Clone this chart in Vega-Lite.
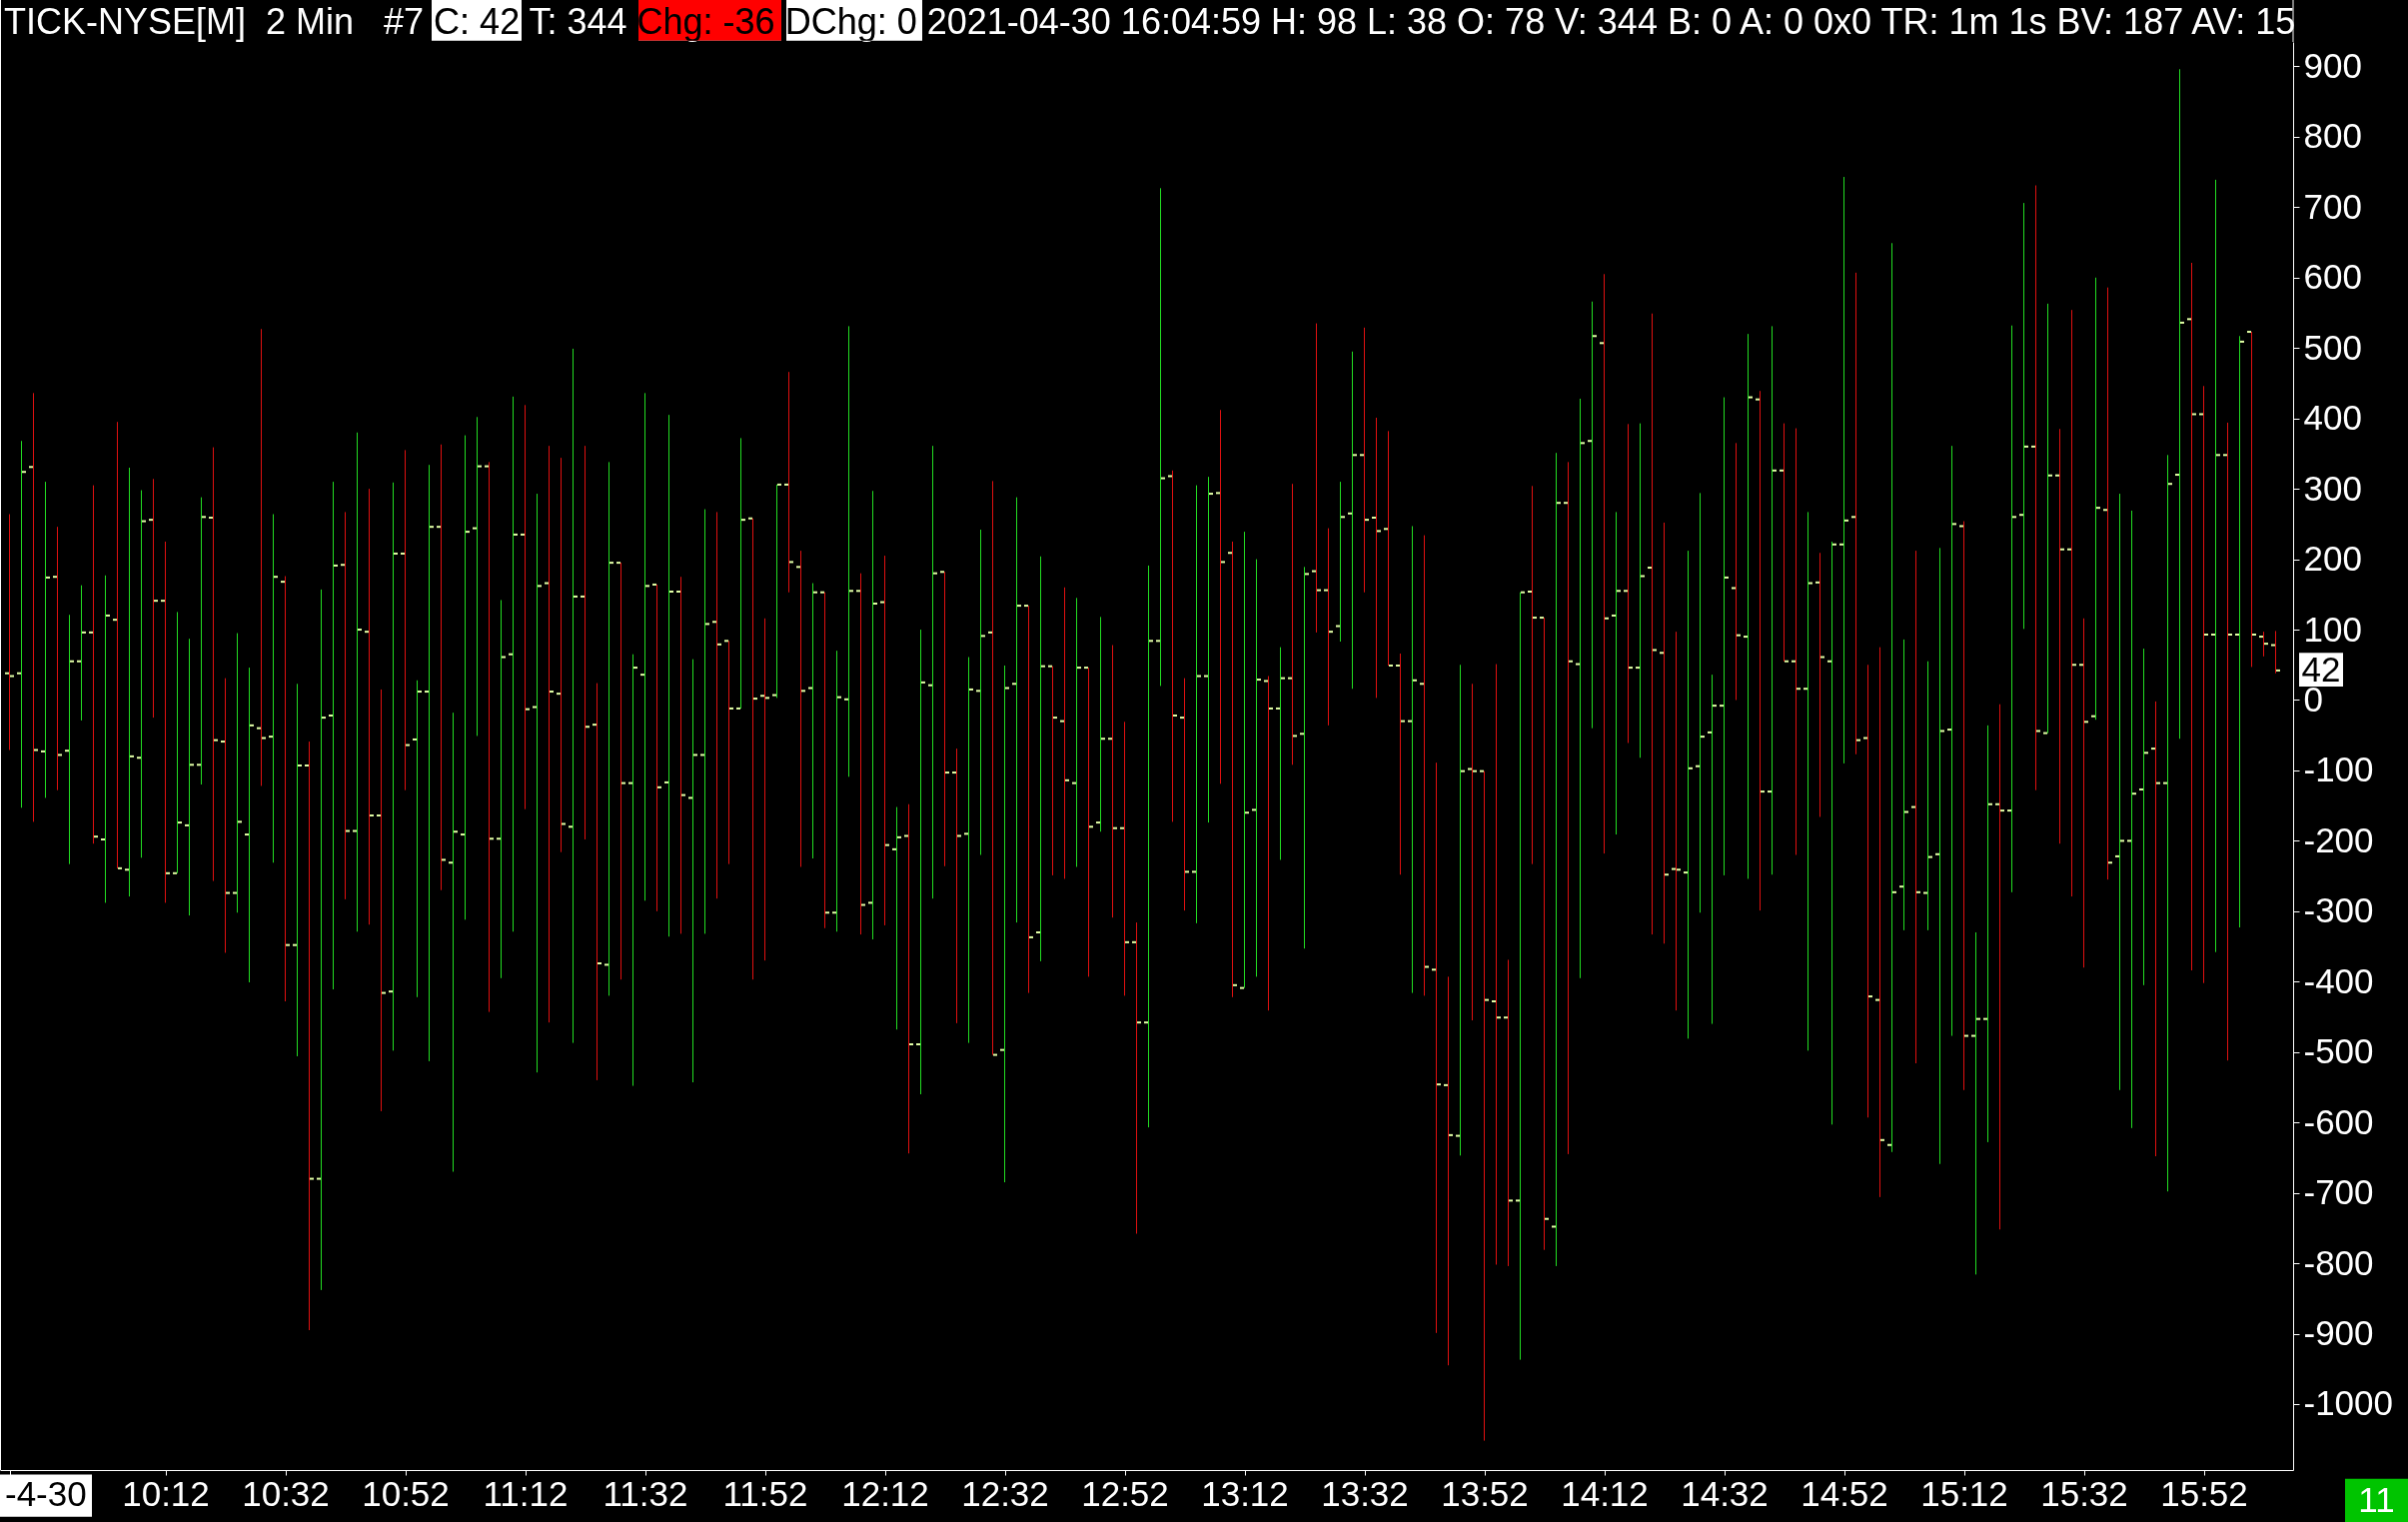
{
  "$schema": "https://vega.github.io/schema/vega-lite/v6.json",
  "width": 2295,
  "height": 1429,
  "autosize": {"type": "none"},
  "padding": {"left": 0, "top": 42, "right": 115, "bottom": 52},
  "background": "black",
  "config": {"view": {"stroke": null}, "font": "Liberation Sans"},
  "data": {
    "format": {"parse": {"t": "utc:'%H:%M'"}},
    "values": [
      {"t":"09:46","o":38,"h":264,"l":-71,"c":34},
      {"t":"09:48","o":38,"h":368,"l":-153,"c":324},
      {"t":"09:50","o":331,"h":436,"l":-173,"c":-71},
      {"t":"09:52","o":-73,"h":310,"l":-139,"c":174},
      {"t":"09:54","o":175,"h":246,"l":-128,"c":-78},
      {"t":"09:56","o":-72,"h":121,"l":-233,"c":55},
      {"t":"09:58","o":55,"h":163,"l":-29,"c":96},
      {"t":"10:00","o":96,"h":305,"l":-204,"c":-194},
      {"t":"10:02","o":-198,"h":177,"l":-288,"c":120},
      {"t":"10:04","o":114,"h":395,"l":-239,"c":-239},
      {"t":"10:06","o":-241,"h":330,"l":-279,"c":-80},
      {"t":"10:08","o":-82,"h":298,"l":-224,"c":254},
      {"t":"10:10","o":256,"h":314,"l":-25,"c":141},
      {"t":"10:12","o":141,"h":225,"l":-288,"c":-246},
      {"t":"10:14","o":-246,"h":125,"l":-246,"c":-174},
      {"t":"10:16","o":-178,"h":87,"l":-306,"c":-92},
      {"t":"10:18","o":-92,"h":288,"l":-120,"c":260},
      {"t":"10:20","o":259,"h":359,"l":-257,"c":-57},
      {"t":"10:22","o":-59,"h":31,"l":-359,"c":-274},
      {"t":"10:24","o":-274,"h":95,"l":-302,"c":-173},
      {"t":"10:26","o":-191,"h":46,"l":-401,"c":-36},
      {"t":"10:28","o":-40,"h":527,"l":-122,"c":-54},
      {"t":"10:30","o":-52,"h":264,"l":-231,"c":175},
      {"t":"10:32","o":168,"h":176,"l":-428,"c":-348},
      {"t":"10:34","o":-348,"h":23,"l":-506,"c":-93},
      {"t":"10:36","o":-93,"h":-59,"l":-895,"c":-680},
      {"t":"10:38","o":-680,"h":157,"l":-838,"c":-25},
      {"t":"10:40","o":-22,"h":310,"l":-411,"c":191},
      {"t":"10:42","o":192,"h":267,"l":-283,"c":-186},
      {"t":"10:44","o":-186,"h":380,"l":-329,"c":100},
      {"t":"10:46","o":97,"h":300,"l":-319,"c":-164},
      {"t":"10:48","o":-164,"h":15,"l":-584,"c":-416},
      {"t":"10:50","o":-414,"h":309,"l":-498,"c":208},
      {"t":"10:52","o":208,"h":355,"l":-128,"c":-64},
      {"t":"10:54","o":-56,"h":28,"l":-422,"c":12},
      {"t":"10:56","o":12,"h":334,"l":-513,"c":246},
      {"t":"10:58","o":246,"h":363,"l":-270,"c":-227},
      {"t":"11:00","o":-231,"h":-18,"l":-670,"c":-187},
      {"t":"11:02","o":-191,"h":376,"l":-312,"c":239},
      {"t":"11:04","o":244,"h":402,"l":-51,"c":332},
      {"t":"11:06","o":332,"h":338,"l":-443,"c":-197},
      {"t":"11:08","o":-197,"h":142,"l":-395,"c":61},
      {"t":"11:10","o":65,"h":431,"l":-329,"c":235},
      {"t":"11:12","o":235,"h":419,"l":-155,"c":-13},
      {"t":"11:14","o":-10,"h":293,"l":-529,"c":162},
      {"t":"11:16","o":166,"h":361,"l":-458,"c":12},
      {"t":"11:18","o":9,"h":344,"l":-216,"c":-176},
      {"t":"11:20","o":-180,"h":499,"l":-487,"c":147},
      {"t":"11:22","o":147,"h":361,"l":-198,"c":-38},
      {"t":"11:24","o":-35,"h":24,"l":-540,"c":-374},
      {"t":"11:26","o":-376,"h":338,"l":-420,"c":195},
      {"t":"11:28","o":195,"h":195,"l":-397,"c":-118},
      {"t":"11:30","o":-118,"h":65,"l":-548,"c":46},
      {"t":"11:32","o":36,"h":436,"l":-285,"c":162},
      {"t":"11:34","o":164,"h":164,"l":-300,"c":-124},
      {"t":"11:36","o":-117,"h":405,"l":-336,"c":154},
      {"t":"11:38","o":154,"h":175,"l":-332,"c":-135},
      {"t":"11:40","o":-139,"h":58,"l":-543,"c":-78},
      {"t":"11:42","o":-78,"h":271,"l":-332,"c":108},
      {"t":"11:44","o":111,"h":267,"l":-282,"c":79},
      {"t":"11:46","o":84,"h":84,"l":-233,"c":-12},
      {"t":"11:48","o":-12,"h":372,"l":-12,"c":256},
      {"t":"11:50","o":258,"h":258,"l":-397,"c":2},
      {"t":"11:52","o":6,"h":116,"l":-370,"c":3},
      {"t":"11:54","o":7,"h":306,"l":3,"c":306},
      {"t":"11:56","o":306,"h":466,"l":153,"c":196},
      {"t":"11:58","o":189,"h":212,"l":-237,"c":13},
      {"t":"12:00","o":17,"h":166,"l":-225,"c":153},
      {"t":"12:02","o":153,"h":153,"l":-324,"c":-302},
      {"t":"12:04","o":-302,"h":70,"l":-329,"c":4},
      {"t":"12:06","o":1,"h":531,"l":-109,"c":155},
      {"t":"12:08","o":155,"h":180,"l":-333,"c":-291},
      {"t":"12:10","o":-288,"h":297,"l":-340,"c":137},
      {"t":"12:12","o":139,"h":205,"l":-320,"c":-206},
      {"t":"12:14","o":-212,"h":-152,"l":-468,"c":-195},
      {"t":"12:16","o":-193,"h":-148,"l":-644,"c":-489},
      {"t":"12:18","o":-489,"h":100,"l":-560,"c":25},
      {"t":"12:20","o":21,"h":361,"l":-282,"c":180},
      {"t":"12:22","o":182,"h":182,"l":-236,"c":-103},
      {"t":"12:24","o":-103,"h":-69,"l":-459,"c":-193},
      {"t":"12:26","o":-190,"h":61,"l":-487,"c":15},
      {"t":"12:28","o":13,"h":242,"l":-220,"c":91},
      {"t":"12:30","o":96,"h":311,"l":-504,"c":-504},
      {"t":"12:32","o":-497,"h":49,"l":-685,"c":17},
      {"t":"12:34","o":23,"h":288,"l":-316,"c":134},
      {"t":"12:36","o":134,"h":134,"l":-416,"c":-337},
      {"t":"12:38","o":-330,"h":204,"l":-371,"c":48},
      {"t":"12:40","o":48,"h":48,"l":-249,"c":-25},
      {"t":"12:42","o":-30,"h":160,"l":-254,"c":-114},
      {"t":"12:44","o":-118,"h":145,"l":-237,"c":46},
      {"t":"12:46","o":46,"h":46,"l":-393,"c":-180},
      {"t":"12:48","o":-174,"h":118,"l":-187,"c":-55},
      {"t":"12:50","o":-55,"h":78,"l":-309,"c":-182},
      {"t":"12:52","o":-182,"h":-31,"l":-420,"c":-344},
      {"t":"12:54","o":-344,"h":-316,"l":-758,"c":-458},
      {"t":"12:56","o":-458,"h":191,"l":-607,"c":84},
      {"t":"12:58","o":84,"h":727,"l":20,"c":315},
      {"t":"13:00","o":318,"h":326,"l":-173,"c":-22},
      {"t":"13:02","o":-25,"h":31,"l":-299,"c":-244},
      {"t":"13:04","o":-244,"h":305,"l":-317,"c":34},
      {"t":"13:06","o":34,"h":317,"l":-174,"c":293},
      {"t":"13:08","o":294,"h":412,"l":-119,"c":196},
      {"t":"13:10","o":209,"h":225,"l":-422,"c":-405},
      {"t":"13:12","o":-409,"h":239,"l":-409,"c":-160},
      {"t":"13:14","o":-156,"h":200,"l":-393,"c":29},
      {"t":"13:16","o":27,"h":34,"l":-441,"c":-12},
      {"t":"13:18","o":-12,"h":75,"l":-227,"c":31},
      {"t":"13:20","o":31,"h":307,"l":-92,"c":-51},
      {"t":"13:22","o":-48,"h":189,"l":-353,"c":179},
      {"t":"13:24","o":183,"h":535,"l":96,"c":156},
      {"t":"13:26","o":156,"h":244,"l":-36,"c":97},
      {"t":"13:28","o":105,"h":310,"l":83,"c":260},
      {"t":"13:30","o":265,"h":495,"l":16,"c":348},
      {"t":"13:32","o":348,"h":529,"l":153,"c":256},
      {"t":"13:34","o":259,"h":401,"l":3,"c":240},
      {"t":"13:36","o":243,"h":382,"l":49,"c":49},
      {"t":"13:38","o":49,"h":66,"l":-248,"c":-30},
      {"t":"13:40","o":-30,"h":247,"l":-416,"c":28},
      {"t":"13:42","o":23,"h":234,"l":-420,"c":-379},
      {"t":"13:44","o":-383,"h":-89,"l":-899,"c":-546},
      {"t":"13:46","o":-547,"h":-393,"l":-945,"c":-618},
      {"t":"13:48","o":-619,"h":50,"l":-647,"c":-101},
      {"t":"13:50","o":-98,"h":23,"l":-455,"c":-101},
      {"t":"13:52","o":-101,"h":-101,"l":-1052,"c":-426},
      {"t":"13:54","o":-428,"h":51,"l":-802,"c":-451},
      {"t":"13:56","o":-451,"h":-369,"l":-804,"c":-711},
      {"t":"13:58","o":-711,"h":153,"l":-937,"c":153},
      {"t":"14:00","o":154,"h":304,"l":-233,"c":117},
      {"t":"14:02","o":117,"h":117,"l":-781,"c":-737},
      {"t":"14:04","o":-748,"h":351,"l":-804,"c":280},
      {"t":"14:06","o":280,"h":338,"l":-645,"c":55},
      {"t":"14:08","o":51,"h":428,"l":-395,"c":365},
      {"t":"14:10","o":368,"h":566,"l":-40,"c":517},
      {"t":"14:12","o":507,"h":605,"l":-218,"c":116},
      {"t":"14:14","o":120,"h":267,"l":-191,"c":155},
      {"t":"14:16","o":155,"h":392,"l":-61,"c":46},
      {"t":"14:18","o":46,"h":393,"l":-82,"c":176},
      {"t":"14:20","o":188,"h":549,"l":-333,"c":71},
      {"t":"14:22","o":67,"h":252,"l":-346,"c":-248},
      {"t":"14:24","o":-240,"h":97,"l":-441,"c":-241},
      {"t":"14:26","o":-245,"h":212,"l":-481,"c":-97},
      {"t":"14:28","o":-94,"h":294,"l":-302,"c":-52},
      {"t":"14:30","o":-46,"h":36,"l":-460,"c":-8},
      {"t":"14:32","o":-8,"h":430,"l":-249,"c":174},
      {"t":"14:34","o":159,"h":365,"l":0,"c":92},
      {"t":"14:36","o":90,"h":520,"l":-254,"c":430},
      {"t":"14:38","o":427,"h":439,"l":-299,"c":-130},
      {"t":"14:40","o":-130,"h":531,"l":-248,"c":326},
      {"t":"14:42","o":326,"h":393,"l":55,"c":55},
      {"t":"14:44","o":55,"h":386,"l":-220,"c":16},
      {"t":"14:46","o":16,"h":267,"l":-498,"c":166},
      {"t":"14:48","o":167,"h":209,"l":-166,"c":61},
      {"t":"14:50","o":55,"h":225,"l":-603,"c":221},
      {"t":"14:52","o":221,"h":743,"l":-90,"c":255},
      {"t":"14:54","o":260,"h":607,"l":-77,"c":-57},
      {"t":"14:56","o":-54,"h":50,"l":-593,"c":-421},
      {"t":"14:58","o":-426,"h":75,"l":-706,"c":-625},
      {"t":"15:00","o":-632,"h":649,"l":-642,"c":-273},
      {"t":"15:02","o":-265,"h":86,"l":-327,"c":-159},
      {"t":"15:04","o":-152,"h":212,"l":-516,"c":-273},
      {"t":"15:06","o":-274,"h":55,"l":-327,"c":-223},
      {"t":"15:08","o":-219,"h":216,"l":-659,"c":-44},
      {"t":"15:10","o":-42,"h":361,"l":-477,"c":250},
      {"t":"15:12","o":247,"h":254,"l":-554,"c":-477},
      {"t":"15:14","o":-477,"h":-330,"l":-816,"c":-453},
      {"t":"15:16","o":-453,"h":-36,"l":-628,"c":-148},
      {"t":"15:18","o":-148,"h":-6,"l":-752,"c":-157},
      {"t":"15:20","o":-157,"h":532,"l":-273,"c":260},
      {"t":"15:22","o":263,"h":706,"l":101,"c":360},
      {"t":"15:24","o":360,"h":731,"l":-128,"c":-44},
      {"t":"15:26","o":-47,"h":563,"l":-47,"c":319},
      {"t":"15:28","o":319,"h":385,"l":-204,"c":214},
      {"t":"15:30","o":214,"h":554,"l":-279,"c":50},
      {"t":"15:32","o":50,"h":116,"l":-380,"c":-31},
      {"t":"15:34","o":-23,"h":600,"l":-28,"c":273},
      {"t":"15:36","o":270,"h":586,"l":-255,"c":-231},
      {"t":"15:38","o":-222,"h":293,"l":-554,"c":-200},
      {"t":"15:40","o":-200,"h":269,"l":-608,"c":-133},
      {"t":"15:42","o":-127,"h":73,"l":-405,"c":-75},
      {"t":"15:44","o":-69,"h":-2,"l":-648,"c":-118},
      {"t":"15:46","o":-118,"h":348,"l":-698,"c":307},
      {"t":"15:48","o":320,"h":896,"l":-55,"c":536},
      {"t":"15:50","o":541,"h":621,"l":-384,"c":406},
      {"t":"15:52","o":406,"h":446,"l":-402,"c":93},
      {"t":"15:54","o":93,"h":739,"l":-358,"c":348},
      {"t":"15:56","o":348,"h":394,"l":-512,"c":93},
      {"t":"15:58","o":93,"h":517,"l":-323,"c":509},
      {"t":"16:00","o":523,"h":523,"l":47,"c":93},
      {"t":"16:02","o":90,"h":97,"l":62,"c":80},
      {"t":"16:04","o":78,"h":98,"l":38,"c":42}
    ]
  },
  "layer": [
    {
      "mark": {"type": "rule", "strokeWidth": 1},
      "encoding": {
        "x": {
          "field": "t", "type": "temporal",
          "scale": {"type": "utc", "domain": [
            {"year": 1900, "month": 1, "date": 1, "hours": 9, "minutes": 44, "seconds": 25, "utc": true},
            {"year": 1900, "month": 1, "date": 1, "hours": 16, "minutes": 6, "seconds": 55, "utc": true}
          ]},
          "axis": {
            "values": [
              {"year": 1900, "month": 1, "date": 1, "hours": 9, "minutes": 46, "utc": true},
              {"year": 1900, "month": 1, "date": 1, "hours": 10, "minutes": 12, "utc": true},
              {"year": 1900, "month": 1, "date": 1, "hours": 10, "minutes": 32, "utc": true},
              {"year": 1900, "month": 1, "date": 1, "hours": 10, "minutes": 52, "utc": true},
              {"year": 1900, "month": 1, "date": 1, "hours": 11, "minutes": 12, "utc": true},
              {"year": 1900, "month": 1, "date": 1, "hours": 11, "minutes": 32, "utc": true},
              {"year": 1900, "month": 1, "date": 1, "hours": 11, "minutes": 52, "utc": true},
              {"year": 1900, "month": 1, "date": 1, "hours": 12, "minutes": 12, "utc": true},
              {"year": 1900, "month": 1, "date": 1, "hours": 12, "minutes": 32, "utc": true},
              {"year": 1900, "month": 1, "date": 1, "hours": 12, "minutes": 52, "utc": true},
              {"year": 1900, "month": 1, "date": 1, "hours": 13, "minutes": 12, "utc": true},
              {"year": 1900, "month": 1, "date": 1, "hours": 13, "minutes": 32, "utc": true},
              {"year": 1900, "month": 1, "date": 1, "hours": 13, "minutes": 52, "utc": true},
              {"year": 1900, "month": 1, "date": 1, "hours": 14, "minutes": 12, "utc": true},
              {"year": 1900, "month": 1, "date": 1, "hours": 14, "minutes": 32, "utc": true},
              {"year": 1900, "month": 1, "date": 1, "hours": 14, "minutes": 52, "utc": true},
              {"year": 1900, "month": 1, "date": 1, "hours": 15, "minutes": 12, "utc": true},
              {"year": 1900, "month": 1, "date": 1, "hours": 15, "minutes": 32, "utc": true},
              {"year": 1900, "month": 1, "date": 1, "hours": 15, "minutes": 52, "utc": true}
            ],
            "format": "%H:%M",
            "labelExpr": "utchours(datum.value) < 10 ? '-4-30' : datum.label",
            "labelColor": {"condition": {"test": "utchours(datum.value) < 10", "value": "black"}, "value": "white"},
            "labelFont": "Liberation Sans", "labelFontSize": 35,
            "labelFlush": 12, "labelFlushOffset": 5, "labelOverlap": false,
            "labelPadding": 2, "tickColor": "white", "tickSize": 5,
            "domainColor": "white", "domainWidth": 1, "grid": false, "title": null, "zindex": 1
          }
        },
        "y": {
          "field": "h", "type": "quantitative",
          "scale": {"domain": [-1093.7, 934.7], "nice": false, "zero": false},
          "axis": {
            "orient": "right",
            "values": [-1000, -900, -800, -700, -600, -500, -400, -300, -200, -100, 0, 100, 200, 300, 400, 500, 600, 700, 800, 900],
            "labelExpr": "datum.value < 0 ? '-' + abs(datum.value) : '' + datum.value",
            "labelColor": "white", "labelFont": "Liberation Sans", "labelFontSize": 35,
            "labelAlign": "left", "labelBaseline": "middle", "labelPadding": 4, "labelOverlap": false, "labelFlush": false,
            "tickColor": "white", "tickSize": 6, "domainColor": "white", "domainWidth": 1,
            "grid": false, "title": null
          }
        },
        "y2": {"field": "l"},
        "color": {"condition": {"test": "datum.c >= datum.o", "value": "#22dd22"}, "value": "#e01010"}
      }
    },
    {
      "mark": {"type": "tick", "orient": "horizontal", "size": 4, "thickness": 2, "xOffset": -2.5, "color": "#e2ffa6", "opacity": 1},
      "encoding": {
        "x": {"field": "t", "type": "temporal"},
        "y": {"field": "o", "type": "quantitative"}
      }
    },
    {
      "mark": {"type": "tick", "orient": "horizontal", "size": 4, "thickness": 2, "xOffset": 2.5, "color": "#e2ffa6", "opacity": 1},
      "encoding": {
        "x": {"field": "t", "type": "temporal"},
        "y": {"field": "c", "type": "quantitative"}
      }
    },
    {
      "transform": [{"filter": "utchours(datum.t) == 16 && utcminutes(datum.t) == 4"}],
      "mark": {"type": "rule", "color": "white", "strokeWidth": 2, "clip": false},
      "encoding": {
        "x": {"datum": {"year": 1900, "month": 1, "date": 1, "hours": 9, "minutes": 44, "seconds": 25, "utc": true}, "type": "temporal"},
        "y": {"datum": 994.3, "type": "quantitative"},
        "y2": {"datum": -1093.7}
      }
    },
    {
      "transform": [{"filter": "utchours(datum.t) == 16 && utcminutes(datum.t) == 4"}],
      "mark": {"type": "rule", "color": "white", "strokeWidth": 1, "clip": false},
      "encoding": {
        "x": {"datum": {"year": 1900, "month": 1, "date": 1, "hours": 16, "minutes": 6, "seconds": 55, "utc": true}, "type": "temporal"},
        "y": {"datum": 994.3, "type": "quantitative"},
        "y2": {"datum": 934.7}
      }
    },
    {
      "transform": [{"filter": "utchours(datum.t) == 16 && utcminutes(datum.t) == 4"}],
      "mark": {"type": "text", "color": "white", "font": "Liberation Sans", "fontSize": 36, "align": "left", "baseline": "alphabetic", "dx": 4, "clip": false},
      "encoding": {
        "x": {"datum": {"year": 1900, "month": 1, "date": 1, "hours": 9, "minutes": 44, "seconds": 25, "utc": true}, "type": "temporal"},
        "y": {"datum": 946, "type": "quantitative"},
        "text": {"value": "TICK-NYSE[M]\u00a0\u00a02 Min\u00a0\u00a0\u00a0#7 C: 42 T: 344 Chg: -36 DChg: 0 2021-04-30 16:04:59 H: 98 L: 38 O: 78 V: 344 B: 0 A: 0 0x0 TR: 1m 1s BV: 187 AV: 15"}
      }
    },
    {
      "transform": [{"filter": "utchours(datum.t) == 16 && utcminutes(datum.t) == 4"}],
      "mark": {"type": "rect", "color": "white", "blend": "difference", "clip": false},
      "encoding": {
        "x": {"datum": {"year": 1900, "month": 1, "date": 1, "hours": 10, "minutes": 56, "seconds": 25, "utc": true}, "type": "temporal"},
        "x2": {"datum": {"year": 1900, "month": 1, "date": 1, "hours": 11, "minutes": 11, "seconds": 25, "utc": true}},
        "y": {"datum": 994.3, "type": "quantitative"},
        "y2": {"datum": 936.5}
      }
    },
    {
      "transform": [{"filter": "utchours(datum.t) == 16 && utcminutes(datum.t) == 4"}],
      "mark": {"type": "rect", "color": "white", "blend": "difference", "clip": false},
      "encoding": {
        "x": {"datum": {"year": 1900, "month": 1, "date": 1, "hours": 11, "minutes": 30, "seconds": 55, "utc": true}, "type": "temporal"},
        "x2": {"datum": {"year": 1900, "month": 1, "date": 1, "hours": 11, "minutes": 54, "seconds": 45, "utc": true}},
        "y": {"datum": 994.3, "type": "quantitative"},
        "y2": {"datum": 936.5}
      }
    },
    {
      "transform": [{"filter": "utchours(datum.t) == 16 && utcminutes(datum.t) == 4"}],
      "mark": {"type": "rect", "color": "white", "blend": "difference", "clip": false},
      "encoding": {
        "x": {"datum": {"year": 1900, "month": 1, "date": 1, "hours": 11, "minutes": 55, "seconds": 35, "utc": true}, "type": "temporal"},
        "x2": {"datum": {"year": 1900, "month": 1, "date": 1, "hours": 12, "minutes": 18, "seconds": 15, "utc": true}},
        "y": {"datum": 994.3, "type": "quantitative"},
        "y2": {"datum": 936.5}
      }
    },
    {
      "transform": [{"filter": "utchours(datum.t) == 16 && utcminutes(datum.t) == 4"}],
      "mark": {"type": "rect", "color": "#ff0000", "blend": "multiply", "clip": false},
      "encoding": {
        "x": {"datum": {"year": 1900, "month": 1, "date": 1, "hours": 11, "minutes": 30, "seconds": 55, "utc": true}, "type": "temporal"},
        "x2": {"datum": {"year": 1900, "month": 1, "date": 1, "hours": 11, "minutes": 54, "seconds": 45, "utc": true}},
        "y": {"datum": 994.3, "type": "quantitative"},
        "y2": {"datum": 936.5}
      }
    },
    {
      "transform": [{"filter": "utchours(datum.t) == 16 && utcminutes(datum.t) == 4"}],
      "mark": {"type": "rect", "color": "white", "clip": false},
      "encoding": {
        "x": {"datum": {"year": 1900, "month": 1, "date": 1, "hours": 9, "minutes": 44, "seconds": 25, "utc": true}, "type": "temporal"},
        "x2": {"datum": {"year": 1900, "month": 1, "date": 1, "hours": 9, "minutes": 59, "seconds": 45, "utc": true}},
        "y": {"datum": -1100, "type": "quantitative"},
        "y2": {"datum": -1160}
      }
    },
    {
      "transform": [{"filter": "utchours(datum.t) == 16 && utcminutes(datum.t) == 4"}],
      "mark": {"type": "rect", "color": "white", "clip": false},
      "encoding": {
        "x": {"datum": {"year": 1900, "month": 1, "date": 1, "hours": 16, "minutes": 7, "seconds": 55, "utc": true}, "type": "temporal"},
        "x2": {"datum": {"year": 1900, "month": 1, "date": 1, "hours": 16, "minutes": 15, "seconds": 15, "utc": true}},
        "y": {"datum": 67, "type": "quantitative"},
        "y2": {"datum": 19}
      }
    },
    {
      "transform": [{"filter": "utchours(datum.t) == 16 && utcminutes(datum.t) == 4"}],
      "mark": {"type": "text", "color": "black", "font": "Liberation Sans", "fontSize": 35, "align": "center", "baseline": "middle", "clip": false},
      "encoding": {
        "x": {"datum": {"year": 1900, "month": 1, "date": 1, "hours": 16, "minutes": 11, "seconds": 35, "utc": true}, "type": "temporal"},
        "y": {"field": "c", "type": "quantitative"},
        "text": {"field": "c"}
      }
    },
    {
      "transform": [{"filter": "utchours(datum.t) == 16 && utcminutes(datum.t) == 4"}],
      "mark": {"type": "rect", "color": "#00c400", "clip": false},
      "encoding": {
        "x": {"datum": {"year": 1900, "month": 1, "date": 1, "hours": 16, "minutes": 15, "seconds": 35, "utc": true}, "type": "temporal"},
        "x2": {"datum": {"year": 1900, "month": 1, "date": 1, "hours": 16, "minutes": 27, "seconds": 0, "utc": true}},
        "y": {"datum": -1106, "type": "quantitative"},
        "y2": {"datum": -1170}
      }
    },
    {
      "transform": [{"filter": "utchours(datum.t) == 16 && utcminutes(datum.t) == 4"}],
      "mark": {"type": "text", "color": "white", "font": "Liberation Sans", "fontSize": 35, "align": "center", "baseline": "middle", "clip": false},
      "encoding": {
        "x": {"datum": {"year": 1900, "month": 1, "date": 1, "hours": 16, "minutes": 20, "seconds": 50, "utc": true}, "type": "temporal"},
        "y": {"datum": -1137, "type": "quantitative"},
        "text": {"value": "11"}
      }
    }
  ]
}
